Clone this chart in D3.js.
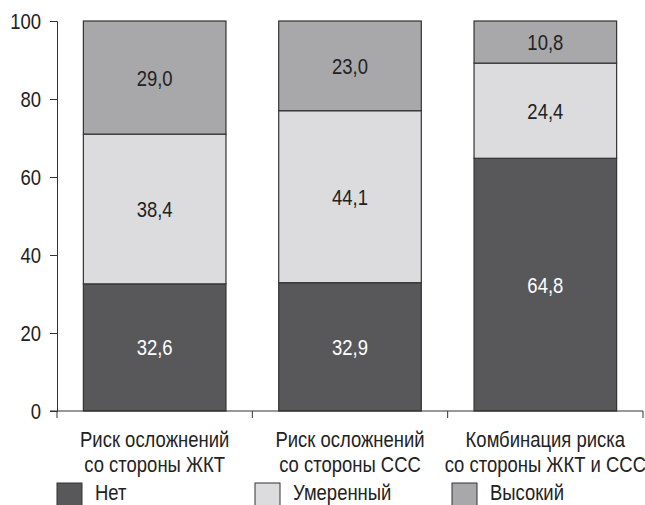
<!DOCTYPE html>
<html><head><meta charset="utf-8">
<script src="https://cdn.jsdelivr.net/npm/d3@7"></script>
<style>
html,body{margin:0;padding:0;background:#fff;}
svg text{font-family:"Liberation Sans",Arial,sans-serif;}
</style></head>
<body><svg id="c" width="645" height="505"></svg>
<script>
const categories = [["Риск осложнений","со стороны ЖКТ"],["Риск осложнений","со стороны ССС"],["Комбинация риска","со стороны ЖКТ и ССС"]];
const seriesNames = ["Нет","Умеренный","Высокий"];
const net = [32.6, 32.9, 64.8];
const moderate = [38.4, 44.1, 24.4];
const high = [29.0, 23.0, 10.8];
const yTicks = [0,20,40,60,80,100];
const colors = ["#58585a","#dcdcde","#a8a8ab"];
const labelColors = ["#ffffff","#222222","#222222"];
const FS = 22, SX = 0.84;

const svg = d3.select("#c");
const x = d3.scaleBand().domain(d3.range(categories.length)).range([57,643]).paddingInner(0.27).paddingOuter(0.135);
const y = d3.scaleLinear().domain([0,100]).range([411,21]);

function txt(parent, px, py, s, anchor, fill){
  return parent.append("text")
    .attr("transform",`translate(${px},${py}) scale(${SX},1)`)
    .attr("text-anchor",anchor).attr("font-size",FS).attr("fill",fill).text(s);
}

const rows = categories.map((c,i)=>({i, v:[net[i],moderate[i],high[i]]}));
const stack = d3.stack().keys([0,1,2]).value((d,k)=>d.v[k]);
const layers = stack(rows);

layers.forEach((layer,k)=>{
  const g = svg.append("g");
  g.selectAll("rect").data(layer).join("rect")
    .attr("x",d=>x(d.data.i)).attr("width",x.bandwidth())
    .attr("y",d=>y(d[1])).attr("height",d=>y(d[0])-y(d[1]))
    .attr("fill",colors[k]).attr("stroke","#333").attr("stroke-width",1.2);
  layer.forEach(d=>{
    txt(g, x(d.data.i)+x.bandwidth()/2, (y(d[0])+y(d[1]))/2+8,
        d.data.v[k].toFixed(1).replace(".",","), "middle", labelColors[k]);
  });
});

// y axis
const ya = svg.append("g").attr("transform","translate(57,0)")
  .call(d3.axisLeft(y).tickValues(yTicks).tickSize(7).tickFormat(""));
ya.selectAll("line,path").attr("stroke","#333");
yTicks.forEach(t=>txt(svg, 41, y(t)+8, String(t), "end", "#222"));

// x axis
const xa = svg.append("g").attr("transform","translate(0,411)");
xa.append("line").attr("x1",50).attr("x2",643).attr("y1",0).attr("y2",0).attr("stroke","#333");
const bounds = [57].concat(d3.range(categories.length).map(i=>x(i)+x.bandwidth()+x.step()*x.paddingInner()/2));
xa.selectAll(".tk").data(bounds).join("line").attr("x1",d=>d).attr("x2",d=>d).attr("y1",0).attr("y2",7).attr("stroke","#333");
categories.forEach((c,i)=>{
  c.forEach((line,j)=>txt(svg, x(i)+x.bandwidth()/2, 447+j*25, line, "middle", "#222"));
});

// legend
const legX = [57,255,452];
seriesNames.forEach((n,k)=>{
  svg.append("rect").attr("x",legX[k]).attr("y",483).attr("width",25).attr("height",24)
    .attr("fill",colors[k]).attr("stroke","#333");
  txt(svg, legX[k]+38, 500, n, "start", "#222");
});
</script></body></html>
